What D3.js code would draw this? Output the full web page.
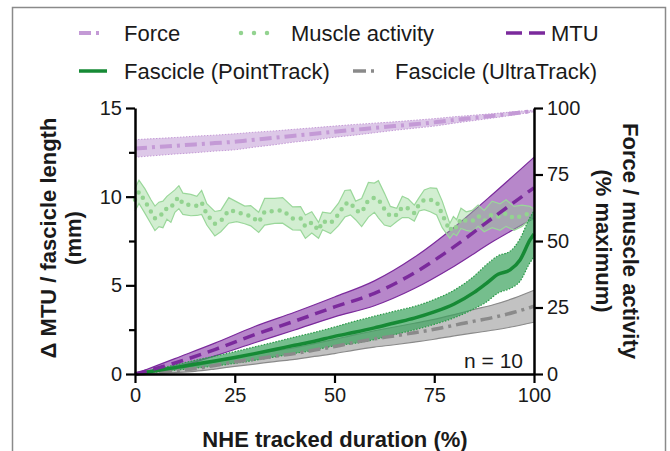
<!DOCTYPE html>
<html><head><meta charset="utf-8">
<script src="https://cdn.jsdelivr.net/npm/d3@7"></script>
<style>body{margin:0;background:#fff}svg{display:block}text{font-family:Arial,"Liberation Sans",Helvetica,sans-serif}</style>
</head><body><svg id="c" width="670" height="451"></svg>
<script>
// ---- data ----
const pctX = [0,5,10,15,20,25,30,35,40,45,50,55,60,65,70,75,80,85,90,95,100];
const forceMean = [84.8,85.3,85.8,86.3,86.8,87.3,88.1,88.8,89.6,90.3,91.1,91.8,92.5,93.2,93.9,94.6,95.5,96.3,97.1,98.0,98.9];
const forceSD = [3.3,3.2,3.1,3.1,3.0,3.0,2.8,2.6,2.4,2.3,2.1,2.0,1.8,1.6,1.5,1.4,1.2,1.0,0.8,0.6,0.3];

const maX = [0,1,2.5,4,5,6,7,8,9,10,11,12,14,15.5,16.7,18,20,21.5,23.5,25.5,27.5,29,31,32.5,35,37,39.5,41.5,42.7,44.3,46,47,49,51,52.6,54,55.3,56.8,58.5,60,61,62.5,64,65.6,67,68.5,70,71.2,72.5,74,75.6,77,78.9,79.8,80.6,81.7,83,84.5,86,87.5,89.5,91.5,93,95,97,99,100];
const maMean = [65.5,68.5,65.0,61.0,58.5,60.0,60.0,62.5,62.5,65.0,66.5,64.0,63.5,63.2,64.5,60.0,56.5,57.5,61.5,61.0,59.8,59.5,57.0,61.0,61.3,61.5,58.5,58.5,55.4,57.0,54.0,57.5,56.6,60.0,64.0,64.5,61.5,60.7,65.5,66.3,65.7,62.0,59.2,59.8,62.8,62.3,60.5,63.8,65.5,65.5,64.8,60.0,53.8,56.0,55.0,58.5,57.5,57.5,59.5,57.5,60.0,59.0,60.5,58.5,59.5,60.5,60.0];
const maSD = [4.2,4.4,4.6,4.5,4.6,4.6,5.0,4.3,5.5,4.2,4.3,4.0,4.0,3.6,4.5,4.0,4.6,4.0,4.8,3.7,3.3,3.8,3.8,5.0,4.7,4.8,4.3,4.4,4.4,4.0,3.0,3.3,3.8,4.2,5.0,4.7,3.5,5.3,6.5,5.5,7.0,6.0,3.8,2.5,4.0,3.5,3.0,2.5,3.7,4.5,5.0,5.0,2.8,3.2,3.0,3.8,3.5,4.0,4.0,4.0,5.0,5.0,5.0,4.5,4.0,2.5,2.0];

const mtuX = [0,10,20,30,40,50,60,70,80,90,100];
const mtuMean = [0,0.62,1.38,2.22,2.98,3.78,4.55,5.70,7.18,8.86,10.5];
const mtuSD = [0,0.25,0.36,0.46,0.50,0.56,0.70,0.88,1.10,1.35,1.72];

const ptX = [0,5,10,15,20,25,30,35,40,45,50,55,60,65,70,75,80,85,88,91,94,96.5,99,100];
const ptMean = [0,0.18,0.36,0.55,0.73,0.93,1.15,1.38,1.62,1.85,2.12,2.35,2.6,2.88,3.15,3.5,3.95,4.6,5.1,5.62,5.87,6.43,7.56,7.9];
const ptSD = [0,0.08,0.15,0.22,0.28,0.33,0.38,0.42,0.46,0.5,0.53,0.62,0.66,0.66,0.66,0.7,0.78,0.92,1.05,1.05,1.05,1.2,1.28,1.3];

const utMean = [0,0.08,0.18,0.3,0.48,0.68,0.84,1.0,1.15,1.35,1.55,1.78,1.98,2.15,2.33,2.52,2.75,2.98,3.2,3.48,3.82];
const utSD = [0,0.05,0.1,0.15,0.2,0.25,0.28,0.3,0.33,0.36,0.4,0.43,0.46,0.5,0.53,0.56,0.6,0.66,0.72,0.8,0.9];

const leftTicks = [0,5,10,15];
const leftMinor = [2.5,7.5,12.5];
const rightTicks = [0,25,50,75,100];
const xTicks = [0,25,50,75,100];
const legendRow1 = ["Force","Muscle activity","MTU"];
const legendRow2 = ["Fascicle (PointTrack)","Fascicle (UltraTrack)"];

// ---- drawing ----
const svg = d3.select("#c");
const x = d3.scaleLinear([0,100],[135,534]);
const yL = d3.scaleLinear([0,15],[374,108]);
const yR = d3.scaleLinear([0,100],[374,108]);

svg.append("rect").attr("x",12.5).attr("y",7.5).attr("width",653).attr("height",470)
  .attr("fill","none").attr("stroke","#8a8a8a").attr("stroke-width",1.5);

function series(xs, m, s){ return xs.map((v,i)=>({x:v,m:m[i],s:s[i]})); }
const C = {
  force:{line:"#c49ad6", fill:"#c7a3d9", op:0.6},
  ma:{line:"#93d390", fill:"#8fd48c", op:0.4, edge:"#9ad79a"},
  mtu:{line:"#7b2a9c", fill:"#9b59b6", op:0.72, edge:"#7b2a9c"},
  pt:{line:"#168a35", fill:"#3aa35c", op:0.7, edge:"#2a9a48"},
  ut:{line:"#8a8a8a", fill:"#999999", op:0.6, edge:"#8a8a8a"}
};

function band(data, y, col, curve, edgeDash, edgeW){
  const area = d3.area().x(d=>x(d.x)).y0(d=>y(d.m-d.s)).y1(d=>y(d.m+d.s)).curve(curve);
  svg.append("path").attr("d",area(data)).attr("fill",col.fill).attr("fill-opacity",col.op).attr("stroke","none");
  [1,-1].forEach(k=>{
    const l = d3.line().x(d=>x(d.x)).y(d=>y(d.m+k*d.s)).curve(curve);
    svg.append("path").attr("d",l(data)).attr("fill","none").attr("stroke",col.edge||col.line)
      .attr("stroke-width",edgeW).attr("stroke-dasharray",edgeDash);
  });
}
function mline(data, y, color, width, dash, curve, cap){
  const l = d3.line().x(d=>x(d.x)).y(d=>y(d.m)).curve(curve);
  svg.append("path").attr("d",l(data)).attr("fill","none").attr("stroke",color)
    .attr("stroke-width",width).attr("stroke-dasharray",dash).attr("stroke-linecap",cap||"butt");
}

const F = series(pctX, forceMean, forceSD);
const MA = series(maX, maMean, maSD);
const MTU = series(mtuX, mtuMean, mtuSD);
const PT = series(ptX, ptMean, ptSD);
const UT = series(pctX, utMean, utSD);
const smooth = d3.curveMonotoneX;

band(F, yR, C.force, smooth, "1.5,1.5", 1);
band(MTU, yL, C.mtu, smooth, null, 1.2);
band(MA, yR, C.ma, d3.curveLinear, null, 1.2);
band(UT, yL, C.ut, smooth, null, 1.2);
band(PT, yL, C.pt, smooth, "1.5,1.5", 1.2);

mline(F, yR, C.force.line, 4, "12,5,3,5", smooth);
mline(MA, yR, C.ma.line, 4.5, "0,8", d3.curveLinear, "round");
mline(UT, yL, C.ut.line, 3.5, "12,5,3,5", smooth);
mline(PT, yL, C.pt.line, 3.5, null, smooth);
mline(MTU, yL, C.mtu.line, 3.5, "12,7", smooth);

// axes
const fs = 20;
function styleAxis(g){
  g.selectAll(".domain").attr("stroke","#000").attr("stroke-width",2.5);
  g.selectAll(".tick line").attr("stroke","#000").attr("stroke-width",2.2);
  g.selectAll("text").attr("font-size",fs).attr("fill","#1a1a1a").attr("font-family","Arial, 'Liberation Sans', sans-serif");
}
const gL = svg.append("g").attr("transform","translate(135,0)")
  .call(d3.axisLeft(yL).tickValues(leftTicks).tickSize(9).tickSizeOuter(0).tickPadding(4));
styleAxis(gL);
const gLm = svg.append("g").attr("transform","translate(135,0)")
  .call(d3.axisLeft(yL).tickValues(leftMinor).tickSize(6).tickSizeOuter(0).tickFormat(""));
gLm.select(".domain").remove();
gLm.selectAll(".tick line").attr("stroke","#000").attr("stroke-width",2.2);
const gR = svg.append("g").attr("transform","translate(534,0)")
  .call(d3.axisRight(yR).tickValues(rightTicks).tickSize(9).tickSizeOuter(0).tickPadding(4));
styleAxis(gR);
const gX = svg.append("g").attr("transform","translate(0,374)")
  .call(d3.axisBottom(x).tickValues(xTicks).tickSize(9).tickSizeOuter(0).tickPadding(5));
styleAxis(gX);

// titles
const tf = 22;
function title(str, tx, ty, rot){
  svg.append("text").attr("transform",`translate(${tx},${ty}) rotate(${rot})`)
    .attr("text-anchor","middle").attr("dominant-baseline","central")
    .attr("font-size",tf).attr("font-weight","bold").attr("fill","#1a1a1a").text(str);
}
title("Δ MTU / fascicle length", 48, 238, -90);
title("(mm)", 73, 238, -90);
title("Force / muscle activity", 630, 241, 90);
title("(% maximum)", 603, 241, 90);
svg.append("text").attr("x",335).attr("y",447).attr("text-anchor","middle")
  .attr("font-size",tf).attr("font-weight","bold").attr("fill","#1a1a1a").text("NHE tracked duration (%)");

svg.append("text").attr("x",523).attr("y",368).attr("text-anchor","end")
  .attr("font-size",21).attr("fill","#1a1a1a").text("n = 10");

// legend
const lf = 22;
function ltext(str, tx, ty){
  svg.append("text").attr("x",tx).attr("y",ty).attr("dominant-baseline","central")
    .attr("font-size",lf).attr("fill","#1a1a1a").text(str);
}
function lsym(x1,x2,y,color,w,dash,cap){
  svg.append("line").attr("x1",x1).attr("x2",x2).attr("y1",y).attr("y2",y)
    .attr("stroke",color).attr("stroke-width",w).attr("stroke-dasharray",dash).attr("stroke-linecap",cap||"butt");
}
const r1 = 33, r2 = 71;
lsym(79,102,r1,C.force.line,4,"12,5,3,5");
ltext(legendRow1[0],124,r1);
lsym(241,269,r1,C.ma.line,4.5,"0,13","round");
ltext(legendRow1[1],291,r1);
lsym(506,546,r1,C.mtu.line,3.5,"16,7");
ltext(legendRow1[2],551,r1);
lsym(79,107,r2,C.pt.line,3.5,null);
ltext(legendRow2[0],124,r2);
lsym(353,377,r2,C.ut.line,3.5,"13,5,3,5");
ltext(legendRow2[1],395,r2);
</script></body></html>
